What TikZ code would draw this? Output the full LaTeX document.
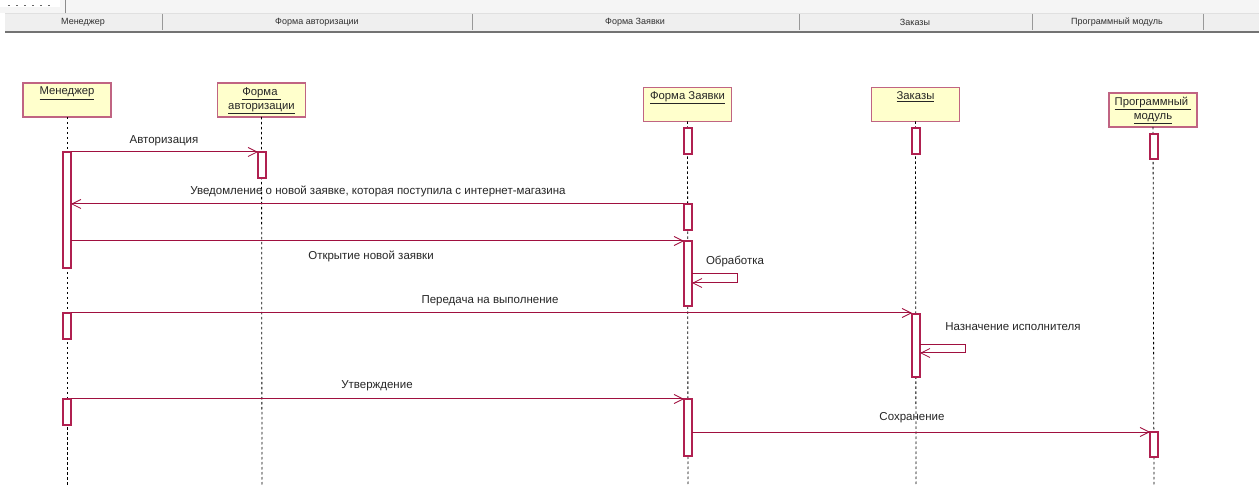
\documentclass[tikz,border=0pt]{standalone}
\usepackage{fontspec}
\setmainfont{Liberation Sans}
\usetikzlibrary{arrows.meta,calc}

\definecolor{msg}{HTML}{A0103F}
\definecolor{headline}{HTML}{C06482}
\definecolor{headfill}{HTML}{FFFFCC}
\definecolor{actline}{HTML}{B02050}
\definecolor{barfill}{HTML}{EFEFEF}
\definecolor{bartext}{HTML}{303030}

\tikzset{
  head/.style={draw=headline, line width=1.8pt, fill=headfill,
    minimum width=88pt, minimum height=34pt, inner sep=0pt, outer sep=0pt},
  headtext/.style={anchor=north, font=\fontsize{11.3}{14}\selectfont,
    align=center, inner sep=0pt, text=black!85},
  colhead/.style={font=\fontsize{9}{10}\selectfont, text=bartext, inner sep=0pt},
  life/.style={draw=black, line width=0.8pt, dash pattern=on 2.5pt off 2.5pt},
  act/.style={draw=actline, line width=1.2pt, fill=white,
    minimum width=8pt, inner sep=0pt, outer sep=0pt},
  msgline/.style={draw=msg, line width=1pt,
    -{Straight Barb[length=9pt,width=9pt,line width=0.8pt]}},
  msglabel/.style={font=\fontsize{11.5}{13}\selectfont, text=black!85, inner sep=0pt},
}

\begin{document}
\begin{tikzpicture}[x=1pt,y=-1pt]
  % canvas
  \fill[white] (0,0) rectangle (1259,486);
  \useasboundingbox (0,0) rectangle (1259,486);

  % column header bar
  \fill[black!4] (0,0) rectangle (1259,13);
  \fill[white] (0,0) rectangle (60,7);
  \draw[black!60, line width=0.5pt, dash pattern=on 2pt off 6pt] (8,5) -- (54,5);
  \draw[black!45, line width=0.8pt] (65,0) -- (65,13);
  \fill[barfill] (5,13) rectangle (1259,31);
  \draw[black!12, line width=0.8pt] (5,13) -- (1259,13);
  \draw[black!55, line width=2pt] (5,32) -- (1259,32);
  \foreach \sx in {162,472,799,1032,1203}
    \draw[black!40, line width=0.9pt] (\sx,14) -- (\sx,30);
  \node[colhead] (c1) at (83,22) {Менеджер};
  \node[colhead] (c2) at (317,22) {Форма авторизации};
  \node[colhead] (c3) at (635,22) {Форма Заявки};
  \node[colhead] (c4) at (915,22) {Заказы};
  \node[colhead] (c5) at (1117,22) {Программный модуль};

  % lifeline heads
  \node[head] (h1) at (67,100) {};
  \node[head] (h2) at (261.5,100) {};
  \node[head] (h3) at (687.5,104.5) {};
  \node[head] (h4) at (915.5,104.5) {};
  \node[head] (h5) at (1153,110) {};
  \node[headtext] (t1) at ([yshift=-4pt]h1.north) {\underline{Менеджер}};
  \node[headtext] (t2) at ([yshift=-4pt]h2.north) {\underline{Форма~}\\\underline{авторизации}};
  \node[headtext] (t3) at ([yshift=-4pt]h3.north) {\underline{Форма Заявки}};
  \node[headtext] (t4) at ([yshift=-4pt]h4.north) {\underline{Заказы}};
  \node[headtext] (t5) at ([yshift=-4pt]h5.north) {\underline{Программный~}\\\underline{модуль}};

  % dashed lifelines
  \coordinate (e1) at (67,486);
  \coordinate (e2) at (262,486);
  \coordinate (e3) at (688,486);
  \coordinate (e4) at (916,486);
  \coordinate (e5) at (1154,486);
  \draw[life] (h1.south) -- (e1);
  \draw[life] (h2.south) -- (e2);
  \draw[life] (h3.south) -- (e3);
  \draw[life] (h4.south) -- (e4);
  \draw[life] (h5.south) -- (e5);

  % activation bars
  \node[act, minimum height=116pt] (m1) at (67,210) {};
  \node[act, minimum height=26pt]  (m2) at (67,326) {};
  \node[act, minimum height=26pt]  (m3) at (67,412) {};
  \node[act, minimum height=26pt]  (a1) at (262,165) {};
  \node[act, minimum height=26pt]  (z0) at (688,141) {};
  \node[act, minimum height=26pt]  (z1) at (688,217) {};
  \node[act, minimum height=65pt]  (z2) at (688,273.5) {};
  \node[act, minimum height=57pt]  (z3) at (688,427.5) {};
  \node[act, minimum height=26pt]  (k0) at (916,141) {};
  \node[act, minimum height=63pt]  (k1) at (916,345.5) {};
  \node[act, minimum height=25pt]  (p0) at (1154,146.5) {};
  \node[act, minimum height=25pt]  (p1) at (1154,444.5) {};

  % messages
  \draw[msgline] (m1.north east) -- (a1.north west);
  \node[msglabel] (l1) at (164,141) {Авторизация};

  \draw[msgline] (z1.north west) -- (z1.north west -| m1.east);
  \node[msglabel] (l2) at (378,191) {Уведомление о новой заявке, которая поступила с интернет-магазина};

  \draw[msgline] (z2.north west -| m1.east) -- (z2.north west);
  \node[msglabel] (l3) at (371,256) {Открытие новой заявки};

  \coordinate (s1a) at (737,274);
  \coordinate (s1b) at (737,283);
  \draw[msgline] (z2.east |- s1a) -- (s1a) -- (s1b) -- (z2.east |- s1b);
  \node[msglabel] (l4) at (735,261) {Обработка};

  \draw[msgline] (m2.north east) -- (m2.north east -| k1.west);
  \node[msglabel] (l5) at (490,301) {Передача на выполнение};

  \coordinate (s2a) at (965,345);
  \coordinate (s2b) at (965,353);
  \draw[msgline] (k1.east |- s2a) -- (s2a) -- (s2b) -- (k1.east |- s2b);
  \node[msglabel] (l6) at (1013,327) {Назначение исполнителя};

  \draw[msgline] (m3.north east) -- (z3.north west);
  \node[msglabel] (l7) at (377,386) {Утверждение};

  \draw[msgline] (z3.east |- p1.north) -- (p1.north west);
  \node[msglabel] (l8) at (912,418) {Сохранение};
\end{tikzpicture}
\end{document}
